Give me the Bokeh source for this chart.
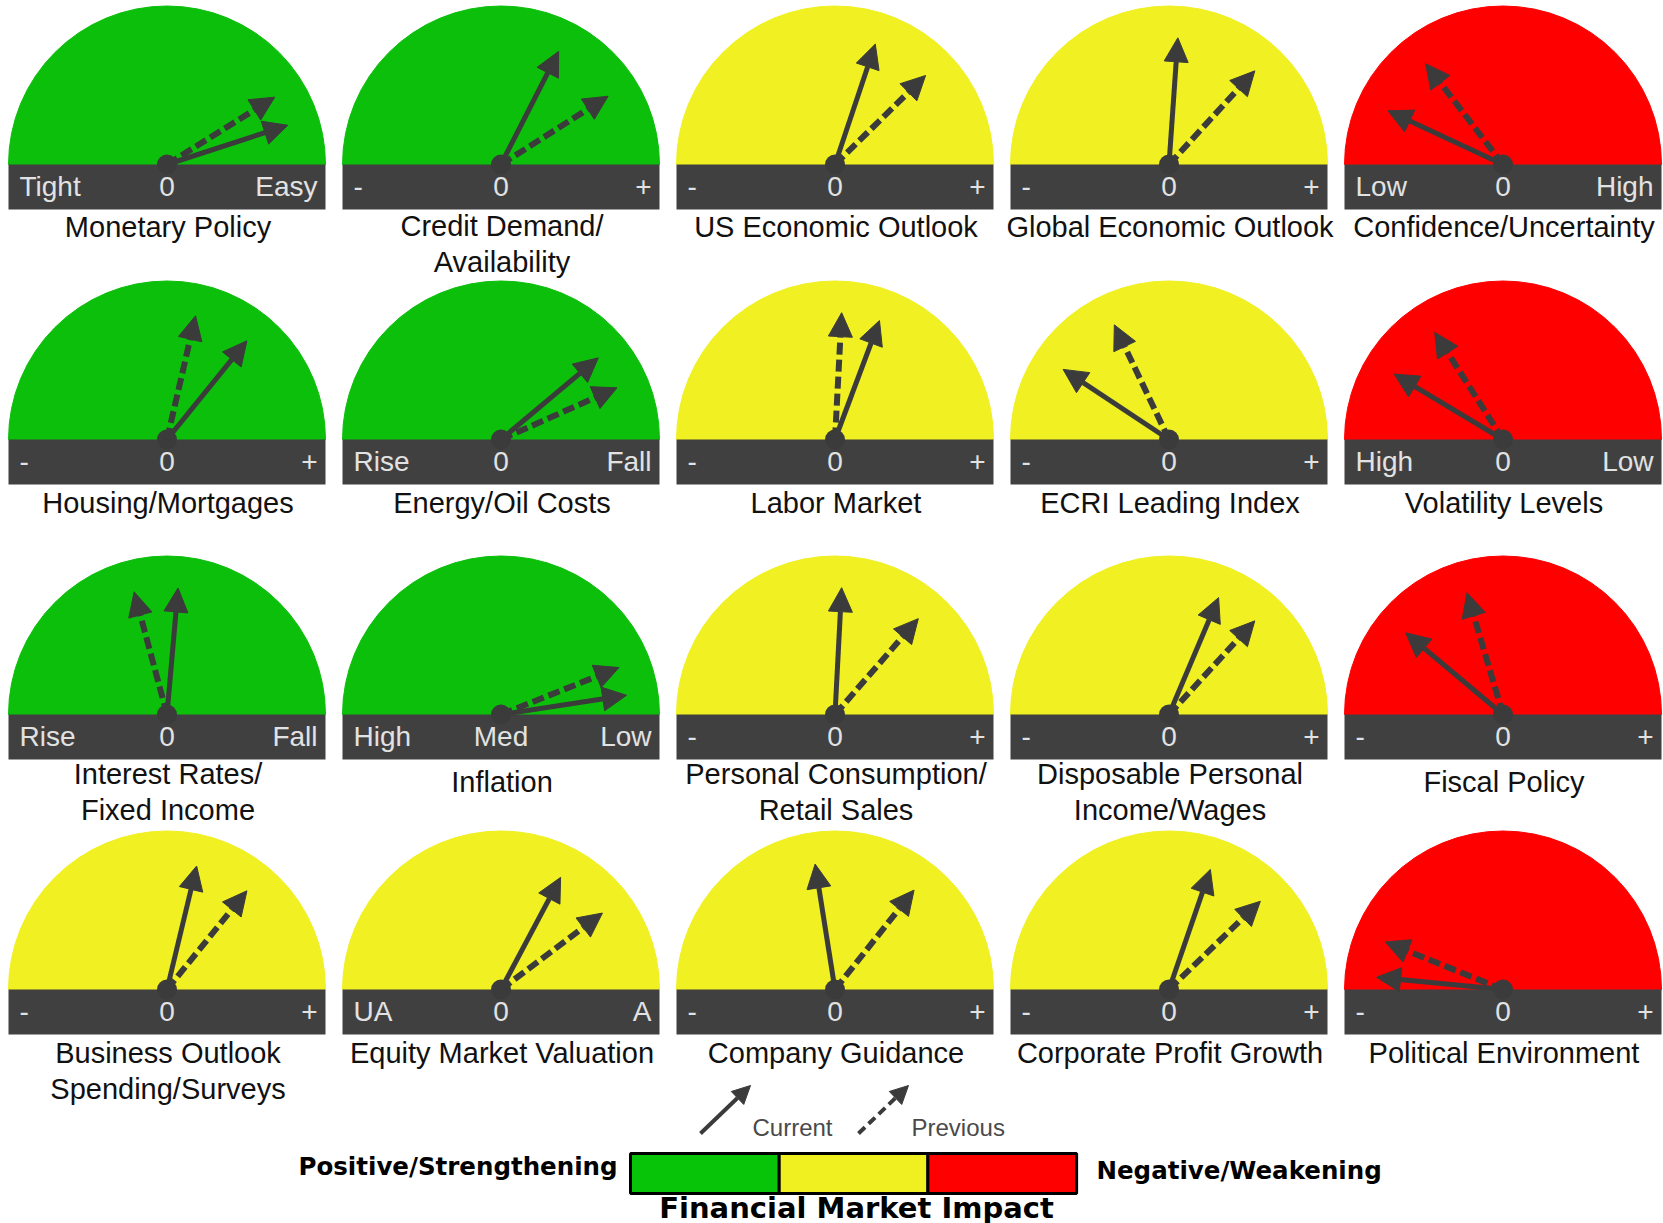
import math
from bokeh.plotting import figure
from bokeh.models import Range1d, ColumnDataSource, Arrow, NormalHead
from bokeh.core.properties import value
from bokeh.embed import file_html
from bokeh.resources import INLINE

# ---------------- data ----------------
titles = [
    "Monetary Policy", "Credit Demand/\nAvailability", "US Economic Outlook",
    "Global Economic Outlook", "Confidence/Uncertainty",
    "Housing/Mortgages", "Energy/Oil Costs", "Labor Market",
    "ECRI Leading Index", "Volatility Levels",
    "Interest Rates/\nFixed Income", "Inflation", "Personal Consumption/\nRetail Sales",
    "Disposable Personal\nIncome/Wages", "Fiscal Policy",
    "Business Outlook\nSpending/Surveys", "Equity Market Valuation", "Company Guidance",
    "Corporate Profit Growth", "Political Environment",
]
left_labels = ["Tight", "-", "-", "-", "Low",
               "-", "Rise", "-", "-", "High",
               "Rise", "High", "-", "-", "-",
               "-", "UA", "-", "-", "-"]
mid_labels = ["0", "0", "0", "0", "0",
              "0", "0", "0", "0", "0",
              "0", "Med", "0", "0", "0",
              "0", "0", "0", "0", "0"]
right_labels = ["Easy", "+", "+", "+", "High",
                "+", "Fall", "+", "+", "Low",
                "Fall", "Low", "+", "+", "+",
                "+", "A", "+", "+", "+"]
impact = ["positive", "positive", "neutral", "neutral", "negative",
          "positive", "positive", "neutral", "neutral", "negative",
          "positive", "positive", "neutral", "neutral", "negative",
          "neutral", "neutral", "neutral", "neutral", "negative"]
# needle readings: angle in degrees, 0 = right end of dial, 180 = left end
current_deg = [18, 63, 71.5, 86, 155,
               51, 40, 69.5, 146.5, 149,
               85, 8.7, 87, 67, 140,
               76.5, 62, 99, 71, 174.5]
previous_deg = [32, 32.5, 44.5, 47.5, 127.5,
                77, 24, 87, 115.5, 122.5,
                105, 21.7, 49, 47.5, 106.5,
                51, 37, 51.5, 44, 158]

legend_labels = ["Current", "Previous"]
impact_levels = ["positive", "neutral", "negative"]
impact_names = ["Positive/Strengthening", "Negative/Weakening"]
impact_title = "Financial Market Impact"

# ---------------- styles / layout ----------------
ZONE_COLORS = {"positive": "#0BBF0B", "neutral": "#F0F022", "negative": "#FE0000"}
LEGEND_COLORS = {"positive": "#08C408", "neutral": "#F0F020", "negative": "#FF0000"}
BAR = "#404040"
NEEDLE = "#3b3b3b"
LABEL = "#e2e2e2"
FONT = value("Liberation Sans")
BOLD = value("DejaVu Sans")

W, H = 1663, 1223
TS = 10  # text baseline correction (page px)
def Y(py):  # page pixel -> data y
    return H - py
def YT(py):  # text baseline position
    return H - (py - TS)

COL0, COLSTEP = 166.5, 334.0
ROW0, ROWSTEP = 164.0, 275.0
R = 158.5
BARH = 45
NL = 127  # needle length
# title first-line baseline offset below bar top, per row: (two-line, one-line)
TITLE_OFF = [(71, 72), (73, 73), (69, 77), (73, 73)]
LINE_GAP = 36

p = figure(width=W, height=H, x_range=Range1d(0, W), y_range=Range1d(0, H),
           output_backend="svg", toolbar_location=None,
           x_axis_location=None, y_axis_location=None, min_border=0)
p.grid.visible = False
p.outline_line_color = None
p.background_fill_color = "white"
p.border_fill_color = "white"

cx, cy, colors = [], [], []
for i in range(len(titles)):
    r, c = divmod(i, 5)
    cx.append(COL0 + COLSTEP * c)
    cy.append(ROW0 + ROWSTEP * r)
    colors.append(ZONE_COLORS[impact[i]])

# dial faces
p.wedge(x=cx, y=[Y(v) for v in cy], radius=R, start_angle=0, end_angle=math.pi,
        fill_color=colors, line_color=colors, line_width=1)
# base bars
p.quad(left=[x - R for x in cx], right=[x + R for x in cx],
       top=[Y(v) for v in cy], bottom=[Y(v + BARH) for v in cy],
       fill_color=BAR, line_color=None)

# bar labels
lab_y = [YT(v + 32) for v in cy]
p.text(x=[x - R + 11 for x in cx], y=lab_y, text=left_labels, text_font=FONT,
       text_font_size="28px", text_color=LABEL, text_align="left", text_baseline="alphabetic")
p.text(x=cx, y=lab_y, text=mid_labels, text_font=FONT,
       text_font_size="28px", text_color=LABEL, text_align="center", text_baseline="alphabetic")
p.text(x=[x + R - 8 for x in cx], y=lab_y, text=right_labels, text_font=FONT,
       text_font_size="28px", text_color=LABEL, text_align="right", text_baseline="alphabetic")

# titles
tx, ty, tt = [], [], []
for i, t in enumerate(titles):
    r = i // 5
    lines = t.split("\n")
    off = TITLE_OFF[r][0] if len(lines) > 1 else TITLE_OFF[r][1]
    for k, ln in enumerate(lines):
        tx.append(cx[i] + 1)
        ty.append(YT(cy[i] + off + LINE_GAP * k))
        tt.append(ln)
p.text(x=tx, y=ty, text=tt, text_font=FONT, text_font_size="29px",
       text_color="#111111", text_align="center", text_baseline="alphabetic")

# needles
def needle_source(degs):
    xs, ys, xe, ye = [], [], [], []
    for i, d in enumerate(degs):
        a = math.radians(d)
        xs.append(cx[i]); ys.append(Y(cy[i]))
        xe.append(cx[i] + NL * math.cos(a)); ye.append(Y(cy[i]) + NL * math.sin(a))
    return ColumnDataSource(dict(xs=xs, ys=ys, xe=xe, ye=ye))

p.add_layout(Arrow(end=NormalHead(size=24, fill_color=NEEDLE, line_color=NEEDLE, line_width=1),
                   x_start="xs", y_start="ys", x_end="xe", y_end="ye",
                   source=needle_source(previous_deg), line_color=NEEDLE, line_width=6,
                   line_dash="12 5"))
p.add_layout(Arrow(end=NormalHead(size=24, fill_color=NEEDLE, line_color=NEEDLE, line_width=1),
                   x_start="xs", y_start="ys", x_end="xe", y_end="ye",
                   source=needle_source(current_deg), line_color=NEEDLE, line_width=5))
p.circle(x=cx, y=[Y(v) for v in cy], radius=10, fill_color=NEEDLE, line_color=None)

# legend: arrows
LX = [700, 858]
LY0, LY1 = 1133, 1085
ldash = ["solid", "9 5"]
for k, lab in enumerate(legend_labels):
    src = ColumnDataSource(dict(xs=[LX[k]], ys=[Y(LY0)], xe=[LX[k] + 50], ye=[Y(LY1)]))
    p.add_layout(Arrow(end=NormalHead(size=18, fill_color=NEEDLE, line_color=NEEDLE, line_width=1),
                       x_start="xs", y_start="ys", x_end="xe", y_end="ye", source=src,
                       line_color=NEEDLE, line_width=4, line_dash=ldash[k]))
p.text(x=[752, 911], y=[YT(1137), YT(1137)], text=legend_labels, text_font=FONT,
       text_font_size="24px", text_color="#4a4a4a", text_align="left",
       text_baseline="alphabetic")

# legend: impact scale
BL, SEG = 630, 148.7
p.quad(left=[BL + SEG * k for k in range(3)], right=[BL + SEG * (k + 1) for k in range(3)],
       top=Y(1153), bottom=Y(1193),
       fill_color=[LEGEND_COLORS[z] for z in impact_levels], line_color="black", line_width=3)
p.text(x=[298], y=[YT(1176)], text=[impact_names[0]], text_font=BOLD, text_font_style="bold",
       text_font_size="24.5px", text_color="black", text_align="left", text_baseline="alphabetic")
p.text(x=[1096], y=[YT(1180)], text=[impact_names[1]], text_font=BOLD, text_font_style="bold",
       text_font_size="24.5px", text_color="black", text_align="left", text_baseline="alphabetic")
p.text(x=[856], y=[YT(1217)], text=[impact_title], text_font=BOLD, text_font_style="bold",
       text_font_size="29px", text_color="black", text_align="center", text_baseline="alphabetic")

open("out.html", "w").write(file_html(p, INLINE))
